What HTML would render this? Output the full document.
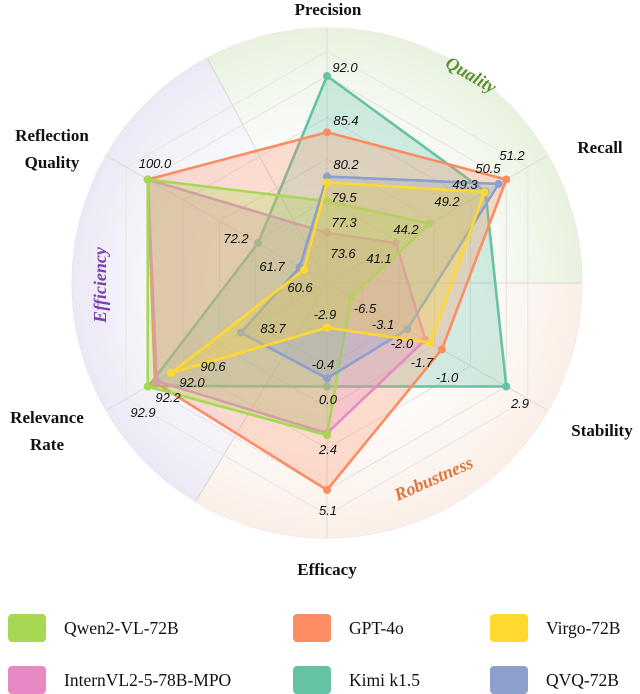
<!DOCTYPE html>
<html><head><meta charset="utf-8"><style>
body{margin:0;background:#fff;}
svg{display:block;}
.ax{font-family:"Liberation Serif",serif;font-weight:bold;font-size:17px;fill:#111;}
.vl{font-family:"Liberation Sans",sans-serif;font-style:italic;font-size:13px;fill:#111;}
.lg{font-family:"Liberation Serif",serif;font-size:17.5px;fill:#111;}
.sec{font-family:"Liberation Serif",serif;font-style:italic;font-weight:bold;font-size:18px;}
</style></head><body>
<svg id="chart" width="640" height="694" viewBox="0 0 640 694">
<defs>
<radialGradient id="gQ" cx="327" cy="283" r="255" gradientUnits="userSpaceOnUse"><stop offset="0.35" stop-color="#f4f9ef" stop-opacity="0"/><stop offset="1" stop-color="#e8f2de"/></radialGradient>
<radialGradient id="gR" cx="327" cy="283" r="255" gradientUnits="userSpaceOnUse"><stop offset="0.35" stop-color="#fdf5ef" stop-opacity="0"/><stop offset="1" stop-color="#fbefe7"/></radialGradient>
<radialGradient id="gE" cx="327" cy="283" r="255" gradientUnits="userSpaceOnUse"><stop offset="0.35" stop-color="#f5f3fa" stop-opacity="0"/><stop offset="1" stop-color="#ece8f5"/></radialGradient>
</defs>
<g id="bg"></g><g id="grid"></g><g id="series"></g><g id="labels"></g>
<text class="ax" x="328" y="15" text-anchor="middle">Precision</text>
<text class="ax" x="600" y="153" text-anchor="middle">Recall</text>
<text class="ax" x="52" y="141" text-anchor="middle"><tspan x="52">Reflection</tspan><tspan x="52" dy="27">Quality</tspan></text>
<text class="ax" x="47" y="423" text-anchor="middle"><tspan x="47">Relevance</tspan><tspan x="47" dy="27">Rate</tspan></text>
<text class="ax" x="602" y="436" text-anchor="middle">Stability</text>
<text class="ax" x="327" y="575" text-anchor="middle">Efficacy</text>
<text class="sec" fill="#5f8f35" transform="translate(468,80) rotate(30)" text-anchor="middle">Quality</text>
<text class="sec" fill="#7b3fb0" transform="translate(106,285) rotate(-90)" text-anchor="middle">Efficiency</text>
<text class="sec" fill="#e0763a" transform="translate(436,484) rotate(-24)" text-anchor="middle">Robustness</text>
<g id="legend"></g>
</svg>
<script>
const axesNames=["Precision","Recall","Stability","Efficacy","Relevance Rate","Reflection Quality"];
const axisMin=[67.7,34.8,-7.96,-5.1,75.2,54.8];
const axisMax=[92.0,51.2,2.9,5.1,92.9,100.0];
const seriesNames=["Qwen2-VL-72B","GPT-4o","Virgo-72B","InternVL2-5-78B-MPO","Kimi k1.5","QVQ-72B"];
const qwen=[77.3,44.2,-6.5,2.4,92.9,100.0];
const gpt=[85.4,51.2,-1.0,5.1,92.2,100.0];
const virgo=[79.5,49.2,-1.7,-2.9,90.6,60.6];
const intern=[73.6,41.1,-2.0,2.3,92.0,100.0];
const kimi=[92.0,49.3,2.9,0.0,92.8,72.2];
const qvq=[80.2,50.5,-3.1,-0.4,83.7,61.7];
const seriesValues=[qwen,gpt,virgo,intern,kimi,qvq];
const colors=["#a6d854","#fc8d62","#ffd92f","#e78ac3","#66c2a5","#8da0cb"];
const drawOrder=[4,1,3,0,5,2];
// value label anchors: [series, axis, x, y]
const labelSpots=[[4,0,345,72],[1,0,346,125],[5,0,346,169],[2,0,344,202],[0,0,344,227],[3,0,343,258],
[1,1,512,160],[5,1,488,173],[4,1,465,189],[2,1,447,206],[0,1,406,234],[3,1,379,263],
[0,2,365,313],[5,2,383,329],[3,2,402,348],[2,2,422,367],[1,2,447,382],[4,2,520,408],
[2,3,325,319],[5,3,323,369],[4,3,328,404],[0,3,328,454],[1,3,328,515],
[5,4,273,333],[2,4,213,371],[3,4,192,387],[1,4,168,402],[0,4,143,417],
[1,5,155,168],[4,5,236,243],[5,5,272,271],[2,5,300,292]];
const cx=327,cy=283,R=207,RC=255;
const NS="http://www.w3.org/2000/svg";
const ang=i=>(-90+60*i)*Math.PI/180;
function rScale(a,v){return (v-axisMin[a])/(axisMax[a]-axisMin[a])*R;}
function pt(a,v){const r=rScale(a,v);return [cx+r*Math.cos(ang(a)),cy+r*Math.sin(ang(a))];}
function mk(tag,parent,attrs){const e=document.createElementNS(NS,tag);for(const k in attrs)e.setAttribute(k,attrs[k]);parent.appendChild(e);return e;}
const bg=document.getElementById('bg');
mk('circle',bg,{cx,cy,r:RC,fill:'#fefefe',stroke:'#e4e4e4'});
function sector(a0,a1,fill,name){
 const p=(d)=>[cx+RC*Math.cos(-d*Math.PI/180),cy+RC*Math.sin(-d*Math.PI/180)];
 const s=p(a0),e=p(a1);const large=Math.abs(a1-a0)>180?1:0;
 const el=mk('path',bg,{d:`M${cx},${cy}L${s[0]},${s[1]}A${RC},${RC} 0 ${large} 0 ${e[0]},${e[1]}Z`,fill});
 
 
}
sector(0,118,'url(#gQ)','quality-sector');
sector(118,239,'url(#gE)','efficiency-sector');
sector(239,360,'url(#gR)','robustness-sector');
[0,118,239].forEach(d=>{mk('line',bg,{x1:cx,y1:cy,x2:cx+RC*Math.cos(-d*Math.PI/180),y2:cy+RC*Math.sin(-d*Math.PI/180),stroke:'#d8d8d8','stroke-width':1});});
const grid=document.getElementById('grid');
for(let k=1;k<=5;k++){
 const rr=R*k/5;
 const pts=[0,1,2,3,4,5].map(i=>[cx+rr*Math.cos(ang(i)),cy+rr*Math.sin(ang(i))].join(',')).join(' ');
 mk('polygon',grid,{points:pts,fill:'none',stroke:'#e2e2e2','stroke-width':1});
}
{const rr=R*1.12;const pts=[0,1,2,3,4,5].map(i=>[cx+rr*Math.cos(ang(i)),cy+rr*Math.sin(ang(i))].join(',')).join(' ');
 mk('polygon',grid,{points:pts,fill:'none',stroke:'#e6e6e6','stroke-width':1});}
for(let i=0;i<6;i++){
 const l=mk('line',grid,{x1:cx,y1:cy,x2:cx+RC*Math.cos(ang(i)),y2:cy+RC*Math.sin(ang(i)),stroke:'#dcdcdc','stroke-width':1});
 
 
}
const sg=document.getElementById('series');
drawOrder.forEach(s=>{
 const vals=seriesValues[s];
 const P=vals.map((v,a)=>pt(a,v));
 const g=mk('g',sg,{});
 
 
 const poly=mk('polygon',g,{points:P.map(p=>p.join(',')).join(' '),fill:colors[s],'fill-opacity':0.28,stroke:colors[s],'stroke-width':2.6,'stroke-linejoin':'round'});
 
 
 P.forEach(p=>{
  const c=mk('circle',g,{cx:p[0],cy:p[1],r:4,fill:colors[s]});
  
  
 });
});
const lg=document.getElementById('labels');
labelSpots.forEach(([s,a,x,y])=>{
 const t=mk('text',lg,{x,y,'text-anchor':'middle',class:'vl'});
 
 
 t.textContent=seriesValues[s][a].toFixed(1);
});
const leg=document.getElementById('legend');
const lx=[8,293,490],ly=[614,666];
seriesNames.forEach((n,i)=>{
 const col=i%3,row=Math.floor(i/3);
 const g=mk('g',leg,{});
 
 
 mk('rect',g,{x:lx[col],y:ly[row],width:38,height:28,rx:4,fill:colors[i]});
 const t=mk('text',g,{x:lx[col]+56,y:ly[row]+20,class:'lg'});
 t.textContent=n;
});
</script>
</body></html>
